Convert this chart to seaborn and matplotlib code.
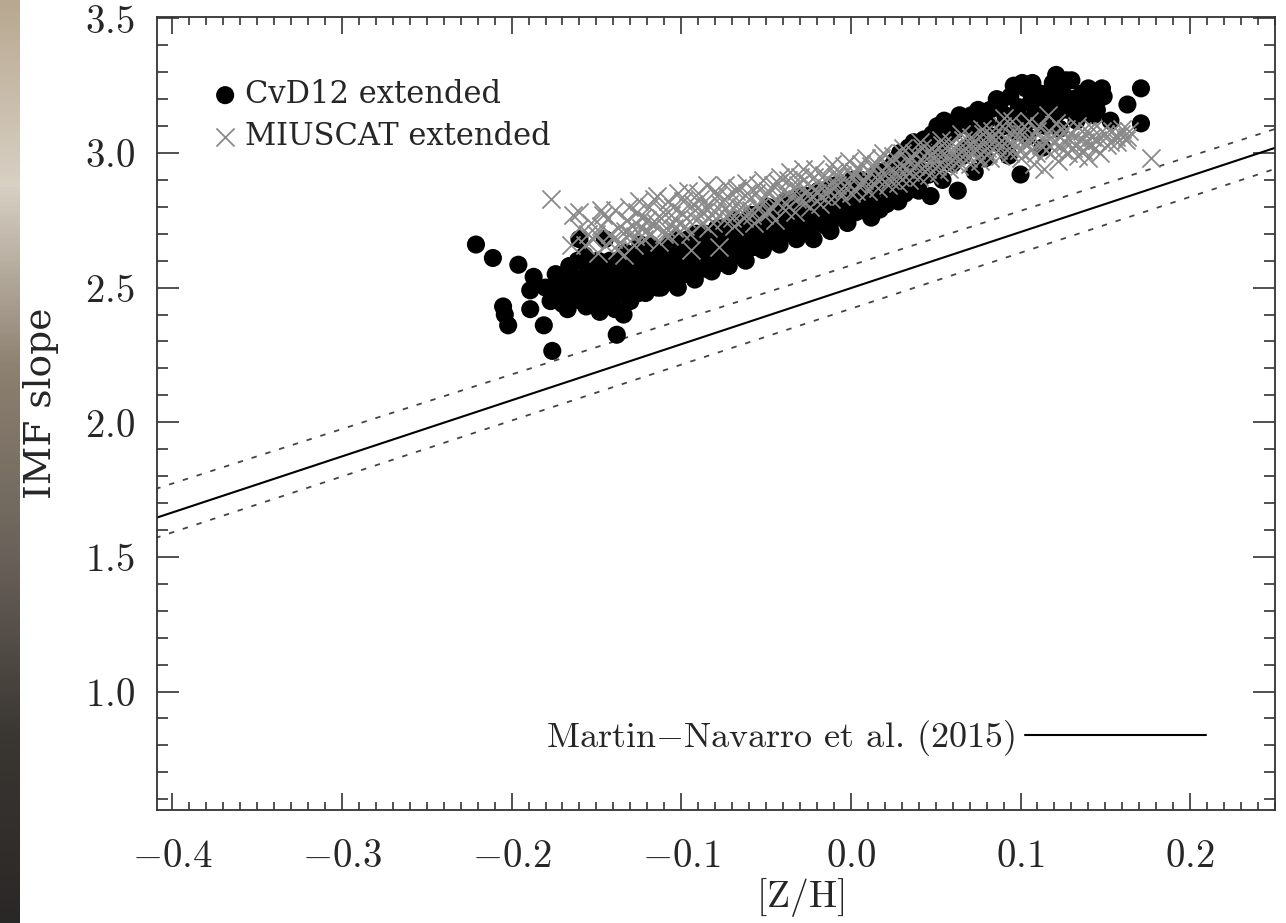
import numpy as np
import pandas as pd
import matplotlib
matplotlib.use("Agg")
import matplotlib.pyplot as plt
import seaborn as sns
from matplotlib.ticker import MultipleLocator, FixedLocator
from matplotlib.colors import LinearSegmentedColormap

# ---------------- data ----------------
cvd_zh = [-0.221,-0.211,-0.196,-0.187,-0.189,-0.205,-0.204,-0.202,-0.189,-0.181,-0.176,-0.138,-0.134,
          -0.180,-0.176,-0.172,-0.170,-0.168,-0.165,-0.163,-0.161,-0.160,-0.158,-0.156,-0.154,-0.152,
          -0.150,-0.148,-0.147,-0.145,-0.144,-0.142,-0.140,-0.139,-0.137,-0.135,-0.133,-0.131,-0.130,
          -0.128,-0.126,-0.124,-0.122,-0.121,-0.119,-0.117,-0.115,-0.113,-0.112,-0.110,-0.108,-0.106,
          -0.104,-0.102,-0.100,-0.098,-0.096,-0.094,-0.092,-0.090,-0.088,-0.086,-0.084,-0.082,-0.080,
          -0.078,-0.076,-0.074,-0.072,-0.070,-0.068,-0.066,-0.064,-0.062,-0.060,-0.058,-0.056,-0.054,
          -0.052,-0.050,-0.048,-0.046,-0.044,-0.042,-0.040,-0.038,-0.036,-0.034,-0.032,-0.030,-0.028,
          -0.026,-0.024,-0.022,-0.020,-0.018,-0.016,-0.014,-0.012,-0.010,-0.008,-0.006,-0.004,-0.002,
          0.000,0.003,0.006,0.009,0.012,0.015,0.017,0.020,0.023,0.026,0.028,0.031,0.034,0.036,0.039,
          0.040,0.043,0.046,0.047,0.050,0.051,0.054,0.057,0.060,0.063,0.065,0.068,0.071,0.073,0.076,
          0.079,0.082,0.085,0.088,0.090,0.093,0.096,0.098,0.100,0.101,0.104,0.106,0.108,0.110,0.113,
          0.116,0.118,0.121,0.123,0.126,0.128,0.130,0.133,0.137,0.140,0.143,0.146,0.149,0.153,0.163,
          0.171,0.171,
          -0.177,-0.174,-0.171,-0.167,-0.166,-0.162,-0.159,-0.157,-0.155,-0.153,-0.151,-0.149,-0.146,
          -0.143,-0.141,-0.138,-0.136,-0.134,-0.132,-0.129,-0.127,-0.125,-0.123,-0.120,-0.118,-0.116,
          -0.114,-0.111,-0.109,-0.107,-0.105,-0.103,-0.101,-0.099,-0.097,-0.095,-0.093,-0.091,-0.089,
          -0.087,-0.085,-0.083,-0.081,-0.079,-0.077,-0.075,-0.073,-0.071,-0.069,-0.067,-0.065,-0.063,
          -0.061,-0.059,-0.057,-0.055,-0.053,-0.051,-0.049,-0.047,-0.045,-0.043,-0.041,-0.039,-0.037,
          -0.035,-0.033,-0.031,-0.029,-0.027,-0.025,-0.023,-0.021,-0.019,-0.017,-0.015,-0.013,-0.011,
          -0.009,-0.007,-0.005,-0.003,-0.001,0.001,0.004,0.007,0.010,0.013,0.016,0.019,0.021,0.024,
          0.027,0.029,0.032,0.035,0.037,0.041,0.044,0.048,0.049,0.053,0.055,0.058,0.061,0.064,0.066,
          0.069,0.072,0.075,0.077,0.080,0.083,0.086,0.089,0.091,0.094,0.097,0.099,0.103,0.105,0.107,
          0.109,0.112,0.115,0.117,0.119,0.122,0.125,0.127,0.131,0.134,0.136,0.139,0.142,0.145,0.148]
cvd_imf = [2.66,2.61,2.585,2.54,2.49,2.43,2.40,2.36,2.42,2.36,2.265,2.325,2.40,
           2.50,2.47,2.52,2.44,2.49,2.55,2.47,2.60,2.68,2.52,2.43,2.50,2.57,
           2.47,2.41,2.54,2.68,2.45,2.60,2.50,2.42,2.56,2.48,2.63,2.53,2.45,
           2.58,2.50,2.66,2.55,2.48,2.61,2.52,2.57,2.64,2.50,2.59,2.54,2.67,
           2.57,2.50,2.62,2.55,2.68,2.59,2.53,2.64,2.57,2.70,2.61,2.56,2.66,
           2.59,2.72,2.63,2.58,2.68,2.62,2.74,2.66,2.60,2.71,2.65,2.77,2.69,
           2.64,2.74,2.67,2.79,2.70,2.66,2.76,2.71,2.82,2.74,2.68,2.78,2.72,
           2.84,2.76,2.68,2.80,2.74,2.86,2.78,2.71,2.82,2.76,2.88,2.80,2.74,
           2.85,2.78,2.90,2.82,2.76,2.88,2.79,2.93,2.85,2.97,2.82,2.91,3.02,2.87,2.95,
           2.86,3.05,2.92,2.84,3.00,3.10,2.90,3.06,2.96,2.86,3.12,3.02,3.14,2.93,3.08,
           2.98,3.16,3.04,3.19,3.10,2.99,3.25,3.14,2.92,3.26,3.06,3.19,3.21,3.12,3.02,
           3.17,3.23,3.29,3.09,3.20,3.16,3.27,3.12,3.16,3.24,3.14,3.20,3.21,3.12,3.18,
           3.24,3.11,
           2.45,2.55,2.48,2.42,2.58,2.52,2.45,2.62,2.56,2.44,2.53,2.60,2.49,
           2.55,2.45,2.60,2.52,2.57,2.47,2.62,2.55,2.48,2.60,2.53,2.66,2.56,
           2.50,2.63,2.57,2.52,2.62,2.68,2.56,2.66,2.60,2.55,2.65,2.70,2.60,
           2.65,2.57,2.68,2.62,2.72,2.65,2.60,2.70,2.64,2.75,2.68,2.62,2.72,
           2.67,2.77,2.70,2.65,2.75,2.69,2.80,2.72,2.68,2.78,2.72,2.82,2.75,
           2.70,2.80,2.74,2.84,2.78,2.70,2.82,2.76,2.86,2.80,2.73,2.84,2.78,
           2.88,2.81,2.76,2.86,2.81,2.90,2.84,2.79,2.88,2.82,2.93,2.87,2.81,2.95,
           2.89,3.00,2.85,2.96,3.04,2.90,3.00,3.07,2.93,3.03,3.12,2.97,3.08,3.14,2.99,
           3.10,3.04,3.16,3.01,3.12,3.06,3.20,3.03,3.14,3.21,3.08,3.17,3.24,3.12,3.26,
           3.16,3.22,3.10,3.20,3.26,3.15,3.22,3.27,3.20,3.14,3.22,3.18,3.22,3.16,3.24]

miu_zh = [-0.177,-0.164,-0.165,-0.149,-0.147,-0.147,-0.155,-0.160,-0.152,-0.145,-0.138,-0.143,-0.140,
          -0.137,-0.134,-0.132,-0.130,-0.128,-0.126,-0.124,-0.122,-0.120,-0.118,-0.116,-0.115,-0.113,
          -0.111,-0.109,-0.107,-0.105,-0.103,-0.101,-0.099,-0.097,-0.095,-0.094,-0.092,-0.090,-0.088,
          -0.086,-0.084,-0.082,-0.080,-0.078,-0.077,-0.075,-0.073,-0.071,-0.069,-0.067,-0.065,-0.063,
          -0.061,-0.059,-0.057,-0.055,-0.053,-0.051,-0.049,-0.047,-0.045,-0.043,-0.041,-0.039,-0.037,
          -0.035,-0.033,-0.031,-0.029,-0.028,-0.026,-0.024,-0.022,-0.020,-0.018,-0.016,-0.014,-0.012,
          -0.010,-0.008,-0.006,-0.004,-0.002,0.000,0.002,0.004,0.006,0.008,0.010,0.012,0.014,0.016,
          0.018,0.020,0.022,0.024,0.026,0.028,0.030,0.032,0.034,0.036,0.038,0.040,0.042,0.044,0.046,
          0.048,0.050,0.052,0.054,0.056,0.058,0.060,0.062,0.064,0.066,0.068,0.070,0.072,0.074,0.076,
          0.078,0.080,0.082,0.084,0.086,0.088,0.090,0.092,0.094,0.096,0.098,0.100,0.102,0.104,0.106,
          0.108,0.110,0.112,0.114,0.116,0.118,0.120,0.122,0.124,0.126,0.128,0.130,0.132,0.134,0.136,
          0.138,0.140,0.142,0.144,0.147,0.150,0.153,0.156,0.159,0.162,0.164,0.177,
          -0.160,-0.157,-0.153,-0.150,-0.146,-0.142,-0.139,-0.136,-0.133,-0.131,-0.129,-0.127,-0.125,
          -0.123,-0.121,-0.119,-0.117,-0.114,-0.112,-0.110,-0.108,-0.106,-0.104,-0.102,-0.100,-0.098,
          -0.096,-0.093,-0.091,-0.089,-0.087,-0.085,-0.083,-0.081,-0.079,-0.076,-0.074,-0.072,-0.070,
          -0.068,-0.066,-0.064,-0.062,-0.060,-0.058,-0.056,-0.054,-0.052,-0.050,-0.048,-0.046,-0.044,
          -0.042,-0.040,-0.038,-0.036,-0.034,-0.032,-0.030,-0.027,-0.025,-0.023,-0.021,-0.019,-0.017,
          -0.015,-0.013,-0.011,-0.009,-0.007,-0.005,-0.003,-0.001,0.001,0.003,0.005,0.007,0.009,
          0.011,0.013,0.015,0.017,0.019,0.021,0.023,0.025,0.027,0.029,0.031,0.033,0.035,0.037,0.039,
          0.041,0.043,0.045,0.047,0.049,0.051,0.053,0.055,0.057,0.059,0.061,0.063,0.065,0.067,0.069,
          0.071,0.073,0.075,0.077,0.079,0.081,0.083,0.085,0.087,0.089,0.091,0.093,0.095,0.097,0.099,
          0.101,0.103,0.105,0.107,0.109,0.111,0.113,0.115,0.117,0.119,0.121,0.123,0.125,0.127,0.129,
          0.131,0.133,0.135,0.137,0.139,0.141,0.143,0.145,0.148,0.151,0.154,0.157,0.160,0.163]
miu_imf = [2.83,2.77,2.66,2.63,2.79,2.73,2.70,2.72,2.68,2.66,2.64,2.76,2.68,
           2.72,2.62,2.75,2.70,2.66,2.78,2.72,2.68,2.75,2.70,2.83,2.74,2.67,
           2.78,2.72,2.69,2.80,2.75,2.71,2.82,2.76,2.70,2.64,2.79,2.85,2.74,
           2.80,2.72,2.77,2.86,2.65,2.81,2.75,2.84,2.78,2.73,2.87,2.80,2.76,
           2.85,2.79,2.74,2.88,2.82,2.77,2.86,2.80,2.75,2.89,2.83,2.79,2.90,
           2.84,2.78,2.88,2.82,2.94,2.86,2.80,2.91,2.85,2.81,2.92,2.87,2.83,
           2.93,2.88,2.84,2.95,2.89,2.85,2.93,2.88,2.96,2.90,2.86,2.95,2.91,2.87,
           2.98,2.92,2.88,2.97,2.93,2.89,3.00,2.94,2.90,2.98,2.95,2.91,3.02,2.96,2.92,
           3.00,2.97,2.93,3.03,2.98,2.94,3.02,2.99,2.95,3.05,3.00,2.96,3.04,3.01,2.97,
           3.07,3.02,2.98,3.06,3.03,2.99,3.13,3.05,3.00,3.08,3.03,2.98,3.10,3.05,3.01,
           2.96,3.08,3.03,2.94,3.14,3.06,3.01,2.97,3.09,3.04,3.00,3.07,3.03,2.99,3.08,
           3.04,2.98,3.06,3.02,3.00,3.07,3.04,3.06,3.07,3.05,3.08,2.98,
           2.78,2.66,2.74,2.70,2.77,2.70,2.79,2.67,2.71,2.80,2.73,2.69,2.82,
           2.76,2.71,2.80,2.74,2.84,2.76,2.70,2.82,2.77,2.72,2.85,2.78,2.73,
           2.86,2.81,2.75,2.83,2.78,2.88,2.80,2.74,2.84,2.78,2.88,2.81,2.76,
           2.86,2.82,2.78,2.89,2.83,2.77,2.85,2.80,2.90,2.84,2.78,2.88,2.82,
           2.91,2.86,2.81,2.93,2.87,2.83,2.91,2.85,2.89,2.84,2.94,2.88,2.84,
           2.90,2.86,2.96,2.91,2.86,2.92,2.87,2.97,2.91,2.86,2.94,2.89,2.98,
           2.93,2.89,2.96,2.91,3.00,2.95,2.90,2.99,2.95,2.91,3.02,2.97,2.93,3.00,2.96,
           3.04,2.99,2.94,3.02,2.98,2.95,3.05,3.00,2.96,3.04,3.00,2.97,3.07,3.02,2.98,
           3.06,3.02,2.99,3.09,3.04,3.00,3.08,3.05,3.01,3.10,3.06,3.02,3.12,3.06,3.01,
           3.07,3.03,3.12,3.05,3.00,3.10,3.05,3.01,3.08,3.04,3.11,3.06,3.01,3.09,3.05,
           3.02,3.10,3.05,3.01,3.08,3.03,3.09,3.05,3.08,3.03,3.08,3.04,3.09,3.06]

# Martin-Navarro et al. (2015) relation, end points read at the axes edges
mn_zh = [-0.41, 0.25]
mn_imf = [1.644, 3.019]
mn_upper = [1.752, 3.089]
mn_lower = [1.570, 2.941]

x_ticks = [-0.4, -0.3, -0.2, -0.1, 0.0, 0.1, 0.2]
x_ticklabels = ["$-0.4$", "$-0.3$", "$-0.2$", "$-0.1$", "$0.0$", "$0.1$", "$0.2$"]
y_ticks = [1.0, 1.5, 2.0, 2.5, 3.0, 3.5]
y_ticklabels = ["$1.0$", "$1.5$", "$2.0$", "$2.5$", "$3.0$", "$3.5$"]

label_cvd = "CvD12 extended"
label_miu = "MIUSCAT extended"
label_mn = "Martin$-$Navarro et al. (2015)"

# ---------------- plotting ----------------
sns.set_style("ticks")
plt.rcParams["mathtext.fontset"] = "cm"
plt.rcParams["font.family"] = ["DejaVu Serif", "DejaVu Sans"]

fig = plt.figure(figsize=(12.86, 9.23), dpi=100)
ax = fig.add_axes([157/1286, 1 - 810/923, (1275 - 157)/1286, (810 - 17)/923])

# left photo-edge strip
strip = fig.add_axes([0, 0, 20/1286, 1])
grad = np.linspace(0, 1, 256).reshape(-1, 1)
cm_strip = LinearSegmentedColormap.from_list(
    "s", ["#b8a890", "#d8d0c4", "#8c8070", "#6a625a", "#3a3632", "#2a2826"])
strip.imshow(grad, aspect="auto", cmap=cm_strip)
strip.set_axis_off()

df_cvd = pd.DataFrame({"zh": cvd_zh, "imf": cvd_imf})
df_miu = pd.DataFrame({"zh": miu_zh, "imf": miu_imf})

sns.scatterplot(data=df_cvd, x="zh", y="imf", ax=ax, marker="o", s=170,
                color="black", edgecolor="none", linewidth=0, label=label_cvd, zorder=3)
sns.scatterplot(data=df_miu, x="zh", y="imf", ax=ax, marker="x", s=170,
                color="#8a8a8a", linewidth=1.3, label=label_miu, zorder=4)

mn_line, = ax.plot(mn_zh, mn_imf, color="black", lw=1.5, zorder=2)
ax.plot(mn_zh, mn_upper, color="#444444", lw=1.3, dashes=(3, 5), zorder=2)
ax.plot(mn_zh, mn_lower, color="#444444", lw=1.3, dashes=(3, 5), zorder=2)

ax.set_xlim(-0.409, 0.250)
ax.set_ylim(0.56, 3.505)

ax.xaxis.set_major_locator(FixedLocator(x_ticks))
ax.set_xticklabels(x_ticklabels)
ax.xaxis.set_minor_locator(MultipleLocator(0.01))
ax.yaxis.set_major_locator(FixedLocator(y_ticks))
ax.set_yticklabels(y_ticklabels)
ax.yaxis.set_minor_locator(MultipleLocator(0.1))

ax.tick_params(axis="both", which="both", direction="in", top=True, right=True,
               color="#333333", width=1.2)
ax.tick_params(axis="x", which="major", length=12, pad=20, labelsize=28)
ax.tick_params(axis="x", which="minor", length=6)
ax.tick_params(axis="y", which="major", length=16, pad=16, labelsize=28)
ax.tick_params(axis="y", which="minor", length=8)
for sp in ax.spines.values():
    sp.set_linewidth(1.3)
    sp.set_color("#333333")

ax.set_xlabel(r"$[\mathrm{Z/H}]$", fontsize=27)
ax.xaxis.set_label_coords((800 - 157) / 1118, (810 - 876) / 793)
ax.set_ylabel("IMF slope", fontsize=27)
ax.yaxis.set_label_coords((59 - 157) / 1118, (810 - 403) / 793)

leg1 = ax.legend(loc="upper left", bbox_to_anchor=(0.035, 0.937), frameon=False,
                 fontsize=22, handletextpad=0.1, labelspacing=0.35, borderaxespad=0,
                 handlelength=1.1, markerscale=1.0)
ax.add_artist(leg1)
ax.legend([mn_line], [label_mn], loc="lower right", bbox_to_anchor=(0.951, 0.047),
          frameon=False, markerfirst=False, handlelength=5.0, handletextpad=0.3,
          prop={"family": "cmr10", "size": 26}, borderaxespad=0)

fig.savefig("out.png", dpi=100)
